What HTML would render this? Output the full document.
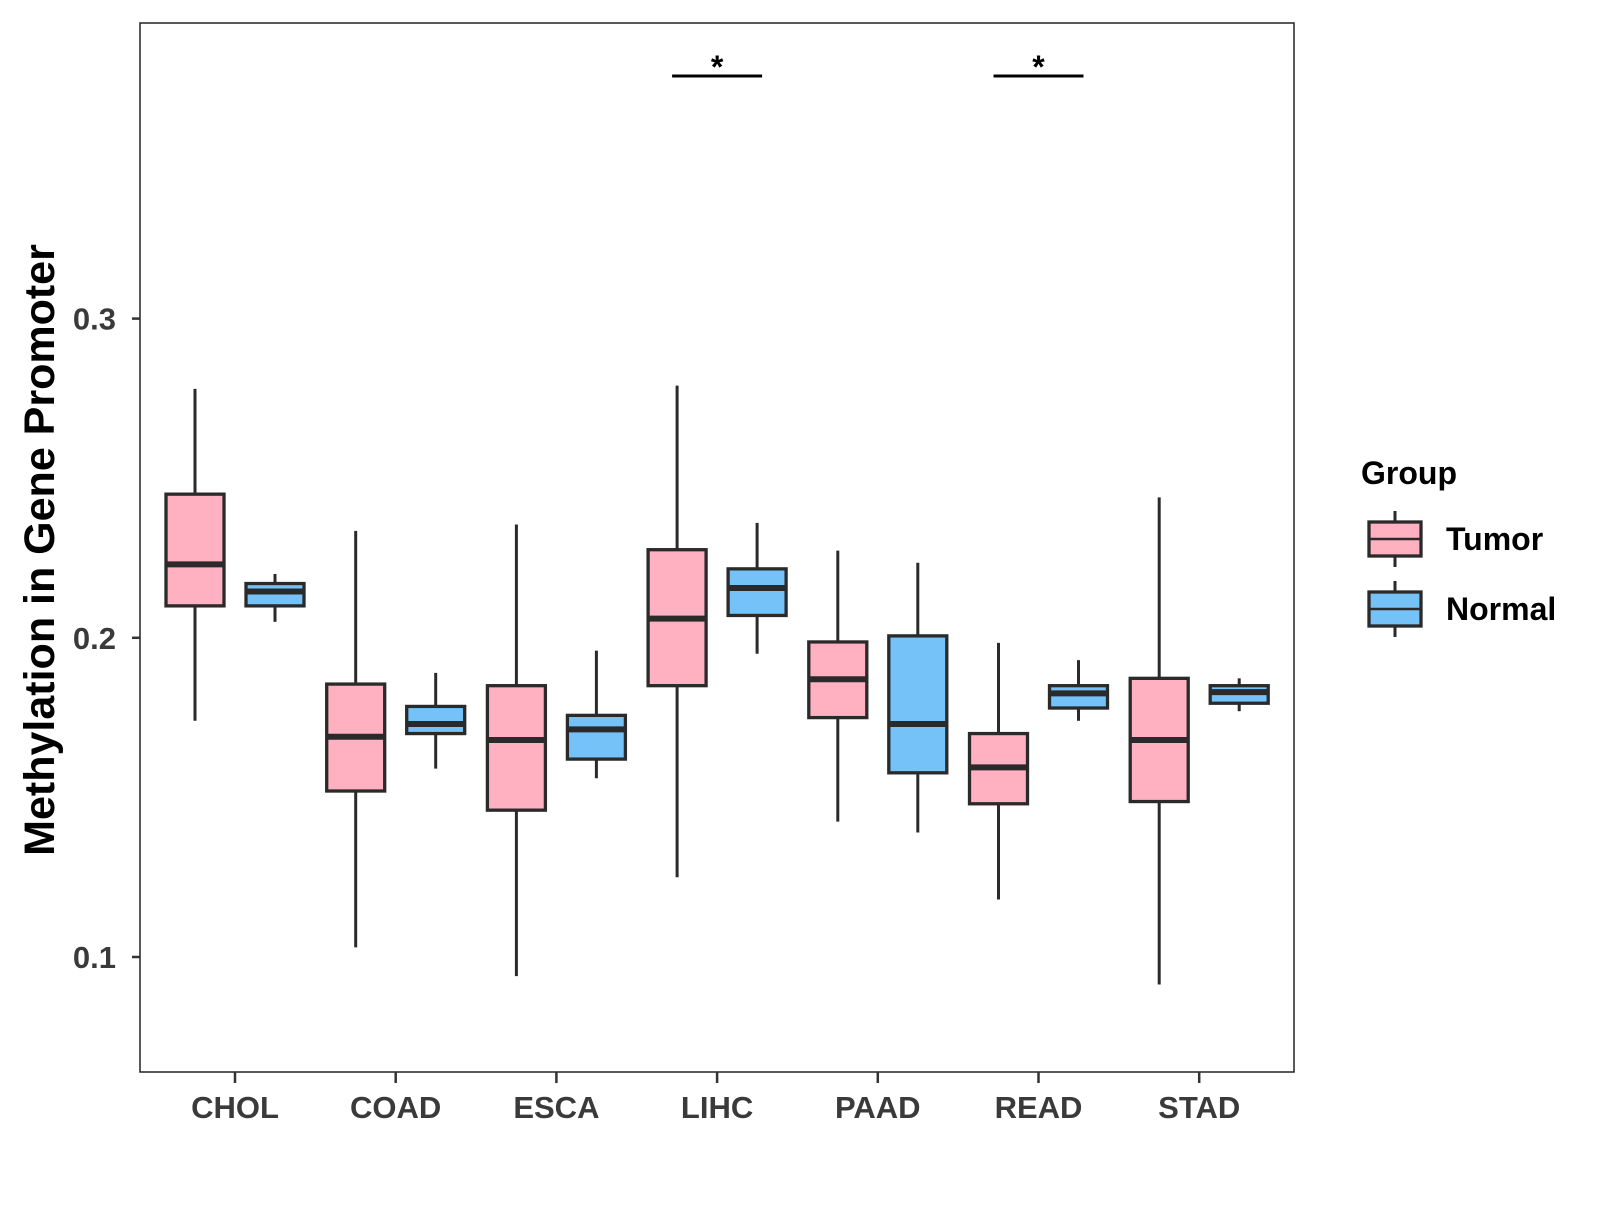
<!DOCTYPE html>
<html><head><meta charset="utf-8"><style>
body{margin:0;background:#fff}
svg text{font-family:"Liberation Sans",Arial,sans-serif;font-weight:bold}
</style></head><body>
<svg id="chart" width="1600" height="1200" xmlns="http://www.w3.org/2000/svg">
<rect width="1600" height="1200" fill="#fff"/>
<g id="plot"></g>
</svg>
<script>
const categories=["CHOL","COAD","ESCA","LIHC","PAAD","READ","STAD"];
const tumorStats=[[0.174,0.210,0.223,0.245,0.278],[0.103,0.152,0.169,0.1855,0.2335],[0.094,0.146,0.168,0.185,0.2355],[0.125,0.185,0.206,0.2276,0.279],[0.1424,0.175,0.187,0.1987,0.2273],[0.118,0.148,0.1594,0.170,0.1984],[0.0914,0.1487,0.168,0.1873,0.244]];
const normalStats=[[0.205,0.210,0.2145,0.217,0.220],[0.159,0.170,0.173,0.1785,0.189],[0.156,0.162,0.1713,0.1757,0.196],[0.195,0.207,0.2156,0.2216,0.236],[0.139,0.1577,0.173,0.2006,0.2235],[0.174,0.178,0.1826,0.185,0.193],[0.177,0.1795,0.183,0.185,0.1873]];
const yTicks=[0.1,0.2,0.3];
const yTickLabels=["0.1","0.2","0.3"];
const sigCategories=["LIHC","READ"];
const sigLevel=0.376;

const NS="http://www.w3.org/2000/svg";
const g=document.getElementById('plot');
const P={l:140,r:1294,t:23,b:1072};
const y=v=>957-(v-0.1)*3192;
const x=i=>235+i*160.7;
function mk(t,a,parent){const e=document.createElementNS(NS,t);for(const k in a)e.setAttribute(k,a[k]);(parent||g).appendChild(e);return e;}

const panel=mk('rect',{x:P.l,y:P.t,width:P.r-P.l,height:P.b-P.t,fill:'none',stroke:'#222','stroke-width':1.5});



yTicks.forEach((v,i)=>{
  const tk=mk('line',{x1:P.l-8,x2:P.l,y1:y(v),y2:y(v),stroke:'#333','stroke-width':2.5});
  
  
  const t=mk('text',{x:P.l-24,y:y(v)+11,'text-anchor':'end','font-size':31,fill:'#3a3a3a'});
  t.textContent=yTickLabels[i];
  
  
});
categories.forEach((c,i)=>{
  const tk=mk('line',{x1:x(i),x2:x(i),y1:P.b,y2:P.b+11,stroke:'#333','stroke-width':2.5});
  
  
  const t=mk('text',{x:x(i),y:P.b+46,'text-anchor':'middle','font-size':31,fill:'#3a3a3a'});
  t.textContent=c;
  
  
});

function box(cx,s,fill,name){
  const w=58,gg=mk('g',{});
  
  
  mk('line',{x1:cx,x2:cx,y1:y(s[0]),y2:y(s[4]),stroke:'#2a2a2a','stroke-width':3},gg);
  mk('rect',{x:cx-w/2,y:y(s[3]),width:w,height:y(s[1])-y(s[3]),fill:fill,stroke:'#2a2a2a','stroke-width':3.3},gg);
  mk('line',{x1:cx-w/2,x2:cx+w/2,y1:y(s[2]),y2:y(s[2]),stroke:'#2a2a2a','stroke-width':6},gg);
}
categories.forEach((c,i)=>{
  box(x(i)-40,tumorStats[i],'#FFB0C1','box-tumor-'+c.toLowerCase());
  box(x(i)+40,normalStats[i],'#75C2F8','box-normal-'+c.toLowerCase());
});
sigCategories.forEach(c=>{
  const i=categories.indexOf(c);
  const l=mk('line',{x1:x(i)-45,x2:x(i)+45,y1:y(sigLevel),y2:y(sigLevel),stroke:'#000','stroke-width':3});
  
  
  const t=mk('text',{x:x(i),y:y(sigLevel)+2,'text-anchor':'middle','font-size':32,fill:'#000'});
  t.textContent='*';
  
  
});

const yt=mk('text',{x:0,y:0,transform:'translate(54,550) rotate(-90)','text-anchor':'middle','font-size':43,fill:'#000'});
yt.textContent='Methylation in Gene Promoter';



const lt=mk('text',{x:1361,y:484,'font-size':32,fill:'#000'});
lt.textContent='Group';


[['Tumor','#FFB0C1',539],['Normal','#75C2F8',609]].forEach(([n,f,cy])=>{
  const gg=mk('g',{});
  
  
  mk('line',{x1:1395,x2:1395,y1:cy-28,y2:cy+28,stroke:'#2a2a2a','stroke-width':3},gg);
  mk('rect',{x:1369,y:cy-17,width:52,height:34,fill:f,stroke:'#2a2a2a','stroke-width':3.3},gg);
  mk('line',{x1:1369,x2:1421,y1:cy,y2:cy,stroke:'#2a2a2a','stroke-width':2.5},gg);
  const t=mk('text',{x:1446,y:cy+11,'font-size':32,fill:'#000'},gg);
  t.textContent=n;
});
</script>
</body></html>
